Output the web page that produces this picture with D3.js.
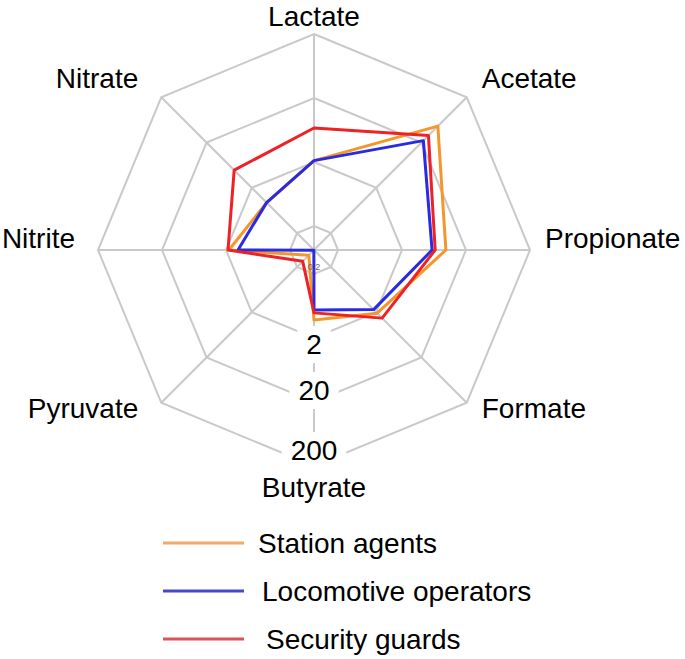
<!DOCTYPE html>
<html>
<head>
<meta charset="utf-8">
<script src="https://cdn.jsdelivr.net/npm/d3@7"></script>
<style>
  body { margin: 0; background: #fff; }
  text { font-family: "Liberation Sans", Arial, sans-serif; }
</style>
</head>
<body>
<div id="radar"></div>
<script>
// axes, clockwise from the top
const metabolites = ["Lactate", "Acetate", "Propionate", "Formate", "Butyrate", "Pyruvate", "Nitrite", "Nitrate"];

// values per group (log scale)
const stationAgents       = [2.1, 46, 9.7, 2.1, 1.05, 0.11, 1.8, 0.94];
const locomotiveOperators = [2.1, 22, 5.9, 1.75, 0.73, 0.085, 1.3, 0.94];
const securityGuards      = [6.8, 28.5, 6.6, 2.7, 0.81, 0.15, 1.86, 4.9];

const groups = ["Station agents", "Locomotive operators", "Security guards"];
const ringTicks = [0.2, 2, 20, 200];
const tickLabels = ["2", "20", "200"];

const width = 685,
      height = 659;
const cx = 314, cy = 250;

const svg = d3.select("#radar")
  .append("svg")
    .attr("width", width)
    .attr("height", height);

// radius scale
const r = d3.scaleLog()
  .domain([0.2, 200])
  .range([24, 216]);

// where the ring labels sit along the bottom spoke
const labelY = d3.scaleLog()
  .domain([2, 20, 200])
  .range([104, 150, 210]);

const color = d3.scaleOrdinal()
  .domain(groups)
  .range(["#f5962a", "#2a2ae0", "#ec2226"]);

const legendColor = d3.scaleOrdinal()
  .domain(groups)
  .range(["#f2aa6a", "#4646d0", "#e0505a"]);

const n = metabolites.length;
const angle = i => i * 2 * Math.PI / n;

const chart = svg.append("g")
  .attr("transform", `translate(${cx},${cy})`);

// grid rings
const ring = d3.lineRadial()
  .angle((d, i) => angle(i))
  .radius(d => d)
  .curve(d3.curveLinearClosed);

chart.append("g")
  .selectAll("path")
  .data(ringTicks)
  .join("path")
    .attr("d", t => ring(d3.range(n).map(() => r(t))))
    .attr("fill", "none")
    .attr("stroke", "#c9c9c9")
    .attr("stroke-width", 2);

// spokes
chart.append("g")
  .selectAll("line")
  .data(metabolites)
  .join("line")
    .attr("x1", 0)
    .attr("y1", 0)
    .attr("x2", (d, i) => r(200) * Math.sin(angle(i)))
    .attr("y2", (d, i) => -r(200) * Math.cos(angle(i)))
    .attr("stroke", "#c9c9c9")
    .attr("stroke-width", 2);

// series
const series = [stationAgents, locomotiveOperators, securityGuards];
const radar = d3.lineRadial()
  .angle((d, i) => angle(i))
  .radius(d => Math.max(0, r(d)))
  .curve(d3.curveLinearClosed);

chart.append("g")
  .selectAll("path")
  .data(series)
  .join("path")
    .attr("d", d => radar(d))
    .attr("fill", "none")
    .attr("stroke", (d, i) => color(groups[i]))
    .attr("stroke-width", 3)
    .attr("stroke-linejoin", "round");

// little label of the inner ring
chart.append("text")
  .attr("x", 0)
  .attr("y", 20)
  .attr("text-anchor", "middle")
  .attr("font-size", 9)
  .attr("fill", "#666")
  .text("0.2");

// ring labels down the Butyrate spoke, on white boxes
const tickG = chart.append("g");
tickLabels.forEach(function(t) {
  const txt = tickG.append("text")
    .attr("x", 0)
    .attr("y", labelY(+t))
    .attr("text-anchor", "middle")
    .attr("font-size", 28)
    .attr("fill", "#000")
    .text(t);
  const b = txt.node().getBBox();
  tickG.insert("rect", "text")
    .attr("x", b.x - 9)
    .attr("y", b.y - 3)
    .attr("width", b.width + 18)
    .attr("height", b.height + 6)
    .attr("fill", "#fff");
});

// axis names
chart.append("g")
  .selectAll("text")
  .data(metabolites)
  .join("text")
    .attr("font-size", 28)
    .attr("fill", "#000")
    .attr("text-anchor", (d, i) => {
      const s = Math.sin(angle(i));
      return s > 0.1 ? "start" : s < -0.1 ? "end" : "middle";
    })
    .attr("x", (d, i) => {
      const s = Math.sin(angle(i));
      return s > 0.1 ? r(200) * s + 15 : s < -0.1 ? r(200) * s - 23 : 0;
    })
    .attr("y", (d, i) => {
      const c = Math.cos(angle(i));
      const off = c > 0.9 ? -8 : c < -0.9 ? 31 : c > 0.1 ? -9 : c < -0.1 ? 15 : -2;
      return -r(200) * c + off;
    })
    .text(d => d);

// legend
const legend = svg.append("g")
  .attr("transform", "translate(163,543)");

const item = legend.selectAll("g")
  .data(groups)
  .join("g")
    .attr("transform", (d, i) => `translate(0,${i * 48})`);

item.append("line")
  .attr("x1", 0)
  .attr("x2", 81)
  .attr("y1", 0)
  .attr("y2", 0)
  .attr("stroke", d => legendColor(d))
  .attr("stroke-width", 3);

item.append("text")
  .attr("x", (d, i) => 95 + i * 4)
  .attr("y", 10)
  .attr("font-size", 28)
  .attr("fill", "#000")
  .text(d => d);
</script>
</body>
</html>
